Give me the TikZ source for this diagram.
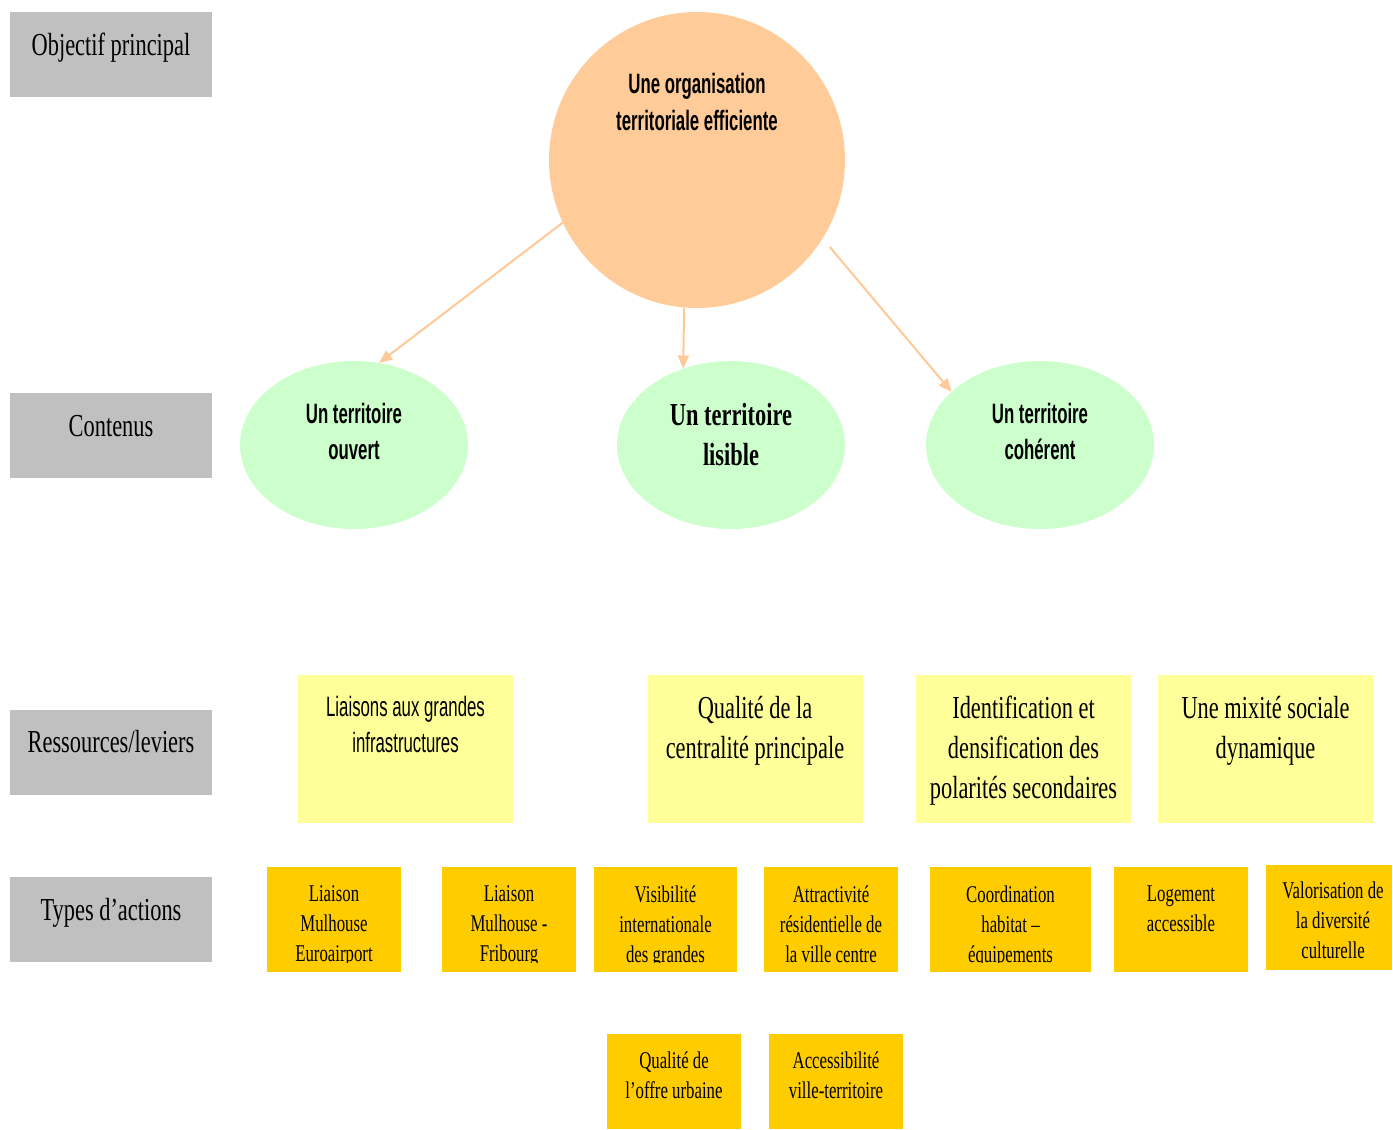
\documentclass[tikz,border=0pt]{standalone}
\usepackage{fontspec}
\usetikzlibrary{shapes.geometric,arrows.meta}
\newfontfamily\srf[FakeStretch=0.7]{Liberation Serif}
\newfontfamily\sns[FakeStretch=0.6]{Liberation Sans}
\definecolor{grayfill}{HTML}{C0C0C0}
\definecolor{peach}{HTML}{FFCC99}
\definecolor{mint}{HTML}{CCFFCC}
\definecolor{paleyellow}{HTML}{FFFF99}
\definecolor{gold}{HTML}{FFCC00}
\definecolor{arrowc}{HTML}{FFC997}
\begin{document}
\begin{tikzpicture}[x=1pt,y=-1pt,
  graybox/.style={rectangle,fill=grayfill,minimum width=202pt,minimum height=85pt,inner sep=0pt},
  graylab/.style={inner sep=0pt,font=\srf\fontsize{32}{40}\selectfont},
  ybox/.style={rectangle,fill=paleyellow,minimum width=215pt,minimum height=148pt,inner sep=0pt},
  ylabserif/.style={inner sep=0pt,align=center,font=\srf\fontsize{32}{40}\selectfont},
  ylabsans/.style={inner sep=0pt,align=center,font=\sns\fontsize{28}{36}\selectfont},
  obox/.style={rectangle,fill=gold,minimum width=134pt,minimum height=105pt,inner sep=0pt},
  olab/.style={inner sep=0pt,align=center,font=\srf\fontsize{24}{30}\selectfont},
  ell/.style={ellipse,fill=mint,minimum width=228pt,minimum height=168pt,inner sep=0pt},
  elab/.style={inner sep=0pt,align=center,font=\sns\bfseries\fontsize{28}{36.4}\selectfont},
  arr/.style={draw=arrowc,line width=2pt,-{Triangle[length=13pt,width=11pt]}}
]
\useasboundingbox (0,0) rectangle (1393,1130);

% row labels
\node[graybox] (g1) at (111,54.5) {};
\node[graylab] (g1t) at (111,47.5) {Objectif principal};
\node[graybox] (g2) at (111,435.5) {};
\node[graylab] (g2t) at (111,425.7) {Contenus};
\node[graybox] (g3) at (111,752.5) {};
\node[graylab] (g3t) at (111,741.3) {Ressources/leviers};
\node[graybox] (g4) at (111,919.5) {};
\node[graylab] (g4t) at (111,912.5) {Types d’actions};

% main objective
\node[circle,fill=peach,minimum size=296pt,inner sep=0pt] (top) at (697,160) {};
\node[inner sep=0pt,align=center,font=\sns\bfseries\fontsize{28}{37}\selectfont] (topt) at (697,101.6) {Une organisation\\territoriale efficiente};

% contents
\node[ell] (ouvert) at (354,445) {};
\node[elab] (ouvertt) at (354,431.2) {Un territoire\\ouvert};
\node[ell] (lisible) at (731,445) {};
\node[inner sep=0pt,align=center,font=\srf\bfseries\fontsize{32}{40.7}\selectfont] (lisiblet) at (731,434.5) {Un territoire\\lisible};
\node[ell] (coherent) at (1040,445) {};
\node[elab] (coherentt) at (1040,431.2) {Un territoire\\cohérent};

\draw[arr] (top.205.5) -- (ouvert.73);
\draw[arr] (top.265) -- (lisible.122);
\draw[arr,shorten <=11pt] (top.328) -- (coherent.149);

% resources
\node[ybox] (y1) at (405.5,749) {};
\node[ylabsans] (y1t) at (405.5,724.2) {Liaisons aux grandes\\infrastructures};
\node[ybox] (y2) at (755,749) {};
\node[ylabserif] (y2t) at (755,730.7) {Qualité de la\\centralité principale};
\node[ybox] (y3) at (1023.5,749) {};
\node[ylabserif] (y3t) at (1023.5,750.5) {Identification et\\densification des\\polarités secondaires};
\node[ybox] (y4) at (1265.5,749) {};
\node[ylabserif] (y4t) at (1265.5,730.7) {Une mixité sociale\\dynamique};

% actions
\node[obox] (o1) at (334,919.5) {};
\begin{scope}
\clip (o1.north west) rectangle ([yshift=10pt]o1.south east);
\node[olab] (o1t) at (334,926.4) {Liaison\\Mulhouse\\Euroairport};
\end{scope}
\node[obox] (o2) at (509,919.5) {};
\begin{scope}
\clip (o2.north west) rectangle ([yshift=10pt]o2.south east);
\node[olab] (o2t) at (509,926.4) {Liaison\\Mulhouse -\\Fribourg};
\end{scope}
\node[obox,minimum width=143pt] (o3) at (665.5,919.5) {};
\begin{scope}
\clip (o3.north west) rectangle ([yshift=10pt]o3.south east);
\node[olab] (o3t) at (665.5,926.4) {Visibilité\\internationale\\des grandes};
\end{scope}
\node[obox] (o4) at (831,919.5) {};
\node[olab] (o4t) at (831,923.8) {Attractivité\\résidentielle de\\la ville centre};
\node[obox,minimum width=161pt] (o5) at (1010.5,919.5) {};
\begin{scope}
\clip (o5.north west) rectangle ([yshift=10pt]o5.south east);
\node[olab] (o5t) at (1010.5,926.4) {Coordination\\habitat –\\équipements};
\end{scope}
\node[obox] (o6) at (1181,919.5) {};
\node[olab] (o6t) at (1181,908.8) {Logement\\accessible};
\node[obox,minimum width=126pt] (o7) at (1329,917.5) {};
\node[olab] (o7t) at (1333,919.8) {Valorisation de\\la diversité\\culturelle};
\node[obox,minimum height=95pt] (o8) at (674,1081.5) {};
\node[olab] (o8t) at (674,1074.8) {Qualité de\\l’offre urbaine};
\node[obox,minimum height=95pt] (o9) at (836,1081.5) {};
\node[olab] (o9t) at (836,1074.8) {Accessibilité\\ville-territoire};
\end{tikzpicture}
\end{document}
